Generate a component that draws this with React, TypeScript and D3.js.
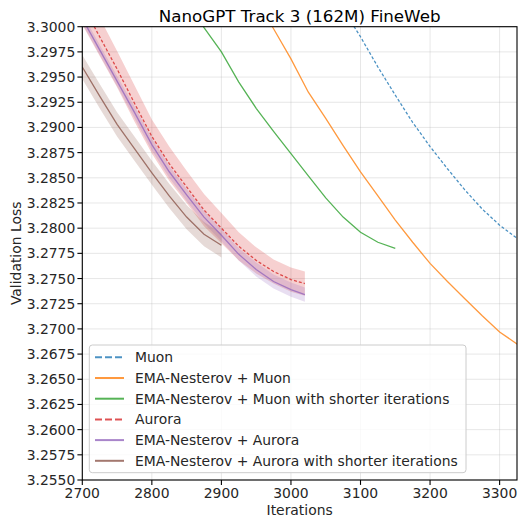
import * as d3 from "d3";

// --- data ---
const muonIters = [3075, 3100, 3125, 3150, 3175, 3200, 3225, 3250, 3275, 3300, 3325, 3350];
const muonLoss = [3.3017, 3.299, 3.296, 3.2932, 3.2905, 3.2881, 3.2859, 3.2838, 3.2819, 3.2803, 3.279, 3.2779];

const emaMuonIters = [2950, 2975, 3000, 3025, 3050, 3075, 3100, 3125, 3150, 3175, 3200, 3225, 3250, 3275, 3300, 3325, 3350];
const emaMuonLoss = [3.3027, 3.2998, 3.2968, 3.2935, 3.2909, 3.2882, 3.2856, 3.2832, 3.2808, 3.2786, 3.2765, 3.2747, 3.273, 3.2713, 3.2697, 3.2685, 3.2674];

const emaMuonShortIters = [2850, 2875, 2900, 2925, 2950, 2975, 3000, 3025, 3050, 3075, 3100, 3125, 3150];
const emaMuonShortLoss = [3.3026, 3.2999, 3.2975, 3.2945, 3.2919, 3.2896, 3.2874, 3.2852, 3.283, 3.2811, 3.2796, 3.2786, 3.278];

const auroraIters = [2700, 2725, 2750, 2775, 2800, 2825, 2850, 2875, 2900, 2925, 2950, 2975, 3000, 3020];
const auroraLoss = [3.3022, 3.299, 3.2958, 3.2924, 3.2891, 3.2864, 3.2841, 3.2818, 3.28, 3.2782, 3.2768, 3.2757, 3.2749, 3.2745];
const auroraStd = [0.002, 0.0019, 0.0018, 0.0018, 0.0017, 0.0017, 0.0016, 0.0016, 0.0015, 0.0014, 0.0013, 0.0012, 0.0012, 0.0012];

const emaAuroraIters = [2700, 2725, 2750, 2775, 2800, 2825, 2850, 2875, 2900, 2925, 2950, 2975, 3000, 3020];
const emaAuroraLoss = [3.3008, 3.2977, 3.2946, 3.2915, 3.2883, 3.2856, 3.2833, 3.2811, 3.2793, 3.2774, 3.2759, 3.2747, 3.2739, 3.2734];
const emaAuroraStd = [0.0005, 0.0005, 0.0005, 0.0006, 0.0006, 0.0006, 0.0006, 0.0006, 0.0006, 0.0006, 0.0007, 0.0007, 0.0007, 0.0007];

const emaAuroraShortIters = [2700, 2725, 2750, 2775, 2800, 2825, 2850, 2875, 2900];
const emaAuroraShortLoss = [3.296, 3.2931, 3.2903, 3.2879, 3.2855, 3.2832, 3.2811, 3.2794, 3.2783];
const emaAuroraShortStd = [0.0012, 0.0012, 0.0012, 0.0012, 0.0012, 0.0012, 0.0012, 0.0012, 0.0012];

const xTicks = [2700, 2800, 2900, 3000, 3100, 3200, 3300];
const yTicks = d3.range(0, 19).map((i) => 3.255 + i * 0.0025);

const series = [
  { label: "Muon", iters: muonIters, loss: muonLoss, std: null, color: "#1f77b4", dash: true },
  { label: "EMA-Nesterov + Muon", iters: emaMuonIters, loss: emaMuonLoss, std: null, color: "#ff7f0e", dash: false },
  { label: "EMA-Nesterov + Muon with shorter iterations", iters: emaMuonShortIters, loss: emaMuonShortLoss, std: null, color: "#2ca02c", dash: false },
  { label: "Aurora", iters: auroraIters, loss: auroraLoss, std: auroraStd, color: "#d62728", dash: true },
  { label: "EMA-Nesterov + Aurora", iters: emaAuroraIters, loss: emaAuroraLoss, std: emaAuroraStd, color: "#9467bd", dash: false },
  { label: "EMA-Nesterov + Aurora with shorter iterations", iters: emaAuroraShortIters, loss: emaAuroraShortLoss, std: emaAuroraShortStd, color: "#8c564b", dash: false },
];

const W = 519;
const H = 516;
const left = 82.3;
const right = 517;
const top = 26.7;
const bottom = 480;
const font = "DejaVu Sans, sans-serif";
const fs = 13.9;

export default function App() {
  const x = d3.scaleLinear().domain([2700, 3325]).range([left, right]);
  const y = d3.scaleLinear().domain([3.255, 3.3]).range([bottom, top]);

  const line = d3
    .line<[number, number]>()
    .x((d) => x(d[0]))
    .y((d) => y(d[1]));

  const area = d3
    .area<[number, number, number]>()
    .x((d) => x(d[0]))
    .y0((d) => y(d[1] - d[2]))
    .y1((d) => y(d[1] + d[2]));

  return (
    <div style={{ position: "absolute", left: 0, top: 0 }}>
      <svg width={W} height={H} style={{ display: "block", background: "#fff" }} fontFamily={font}>
        <defs>
          <clipPath id="plot">
            <rect x={left} y={top} width={right - left} height={bottom - top} />
          </clipPath>
        </defs>

        {/* grid */}
        {yTicks.map((t) => (
          <line key={"gy" + t} x1={left} x2={right} y1={y(t)} y2={y(t)} stroke="#b0b0b0" strokeOpacity={0.3} strokeWidth={1} />
        ))}
        {xTicks.map((t) => (
          <line key={"gx" + t} x1={x(t)} x2={x(t)} y1={top} y2={bottom} stroke="#b0b0b0" strokeOpacity={0.3} strokeWidth={1} />
        ))}

        <g clipPath="url(#plot)">
          {series.map((s) =>
            s.std ? (
              <path
                key={"band" + s.label}
                d={area(s.iters.map((it, i) => [it, s.loss[i], s.std![i]] as [number, number, number])) || ""}
                fill={s.color}
                fillOpacity={0.22}
                stroke="none"
              />
            ) : null
          )}
          {series.map((s) => (
            <path
              key={"line" + s.label}
              d={line(s.iters.map((it, i) => [it, s.loss[i]] as [number, number])) || ""}
              fill="none"
              stroke={s.color}
              strokeOpacity={0.8}
              strokeWidth={1.3}
              strokeDasharray={s.dash ? "3,2" : undefined}
            />
          ))}
        </g>

        {/* spines */}
        <rect x={left} y={top} width={right - left} height={bottom - top} fill="none" stroke="#000" strokeWidth={1.1} />

        {/* y axis ticks */}
        {yTicks.map((t) => (
          <g key={"yt" + t}>
            <line x1={left - 4.9} x2={left} y1={y(t)} y2={y(t)} stroke="#000" strokeWidth={1.1} />
            <text x={left - 7} y={y(t)} dy="0.36em" textAnchor="end" fontSize={fs} fill="#262626">
              {t.toFixed(4)}
            </text>
          </g>
        ))}
        {/* x axis ticks */}
        {xTicks.map((t) => (
          <g key={"xt" + t}>
            <line x1={x(t)} x2={x(t)} y1={bottom} y2={bottom + 4.9} stroke="#000" strokeWidth={1.1} />
            <text x={x(t)} y={498} textAnchor="middle" fontSize={fs} fill="#262626">
              {t}
            </text>
          </g>
        ))}

        <text x={(left + right) / 2} y={21.5} textAnchor="middle" fontSize={16.7} fill="#000">
          NanoGPT Track 3 (162M) FineWeb
        </text>
        <text x={(left + right) / 2} y={514.5} textAnchor="middle" fontSize={fs} fill="#262626">
          Iterations
        </text>
        <text
          transform={`translate(20.5, ${(top + bottom) / 2}) rotate(-90)`}
          textAnchor="middle"
          fontSize={fs}
          fill="#262626"
        >
          Validation Loss
        </text>

        {/* legend */}
        <rect x={89.3} y={345} width={376.7} height={127.7} rx={3} fill="#fff" fillOpacity={0.8} stroke="#cccccc" strokeWidth={1} />
        {series.map((s, i) => {
          const ly = 357.3 + i * 20.7;
          return (
            <g key={"lg" + s.label}>
              <line
                x1={95}
                x2={124}
                y1={ly}
                y2={ly}
                stroke={s.color}
                strokeOpacity={0.8}
                strokeWidth={2}
                strokeDasharray={s.dash ? "7,3" : undefined}
              />
              <text x={135} y={ly} dy="0.36em" fontSize={fs} fill="#262626">
                {s.label}
              </text>
            </g>
          );
        })}
      </svg>
    </div>
  );
}
